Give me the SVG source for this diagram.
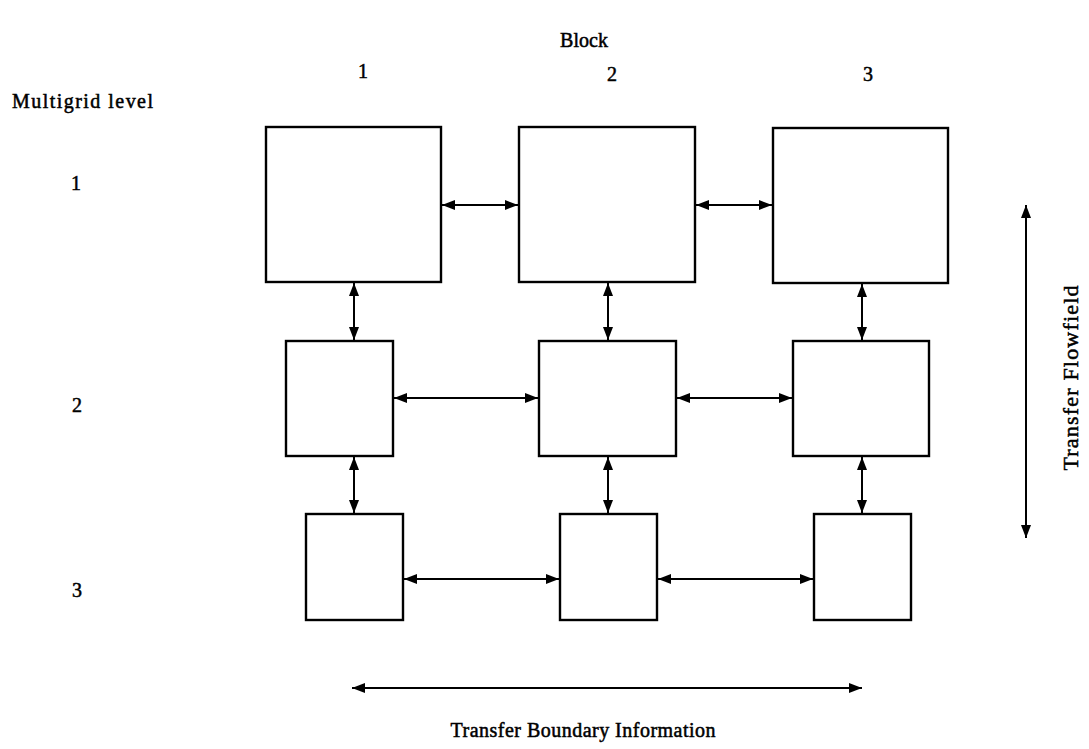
<svg xmlns="http://www.w3.org/2000/svg" width="1089" height="749" viewBox="0 0 1089 749">
  <defs>
    <marker id="head" viewBox="0 0 13 10" refX="13" refY="5" markerWidth="13" markerHeight="10" markerUnits="userSpaceOnUse" orient="auto-start-reverse">
      <path d="M0,0 L13,5 L0,10 Z" fill="#000"/>
    </marker>
  </defs>
  <style>
    .box { fill: #fff; stroke: #000; stroke-width: 2.4; }
    .link { stroke: #000; stroke-width: 2; fill: none; marker-start: url(#head); marker-end: url(#head); }
    text { font-family: "Liberation Serif", "Times New Roman", serif; font-size: 20px; fill: #000; stroke: #000; stroke-width: 0.5; }
    .mid { text-anchor: middle; }
  </style>
  <rect width="1089" height="749" fill="#fff"/>

  <!-- headings -->
  <text class="mid" x="584" y="47">Block</text>
  <text class="mid" x="363" y="78">1</text>
  <text class="mid" x="612" y="81">2</text>
  <text class="mid" x="868" y="81">3</text>
  <text x="12" y="108" textLength="141">Multigrid level</text>
  <text class="mid" x="76" y="190">1</text>
  <text class="mid" x="77" y="412">2</text>
  <text class="mid" x="77" y="597">3</text>

  <!-- level 1 -->
  <g id="b1-l1"><rect class="box" x="266" y="127" width="175" height="155"/></g>
  <g id="b2-l1"><rect class="box" x="519" y="127" width="176" height="155"/></g>
  <g id="b3-l1"><rect class="box" x="773" y="128" width="175" height="155"/></g>
  <!-- level 2 -->
  <g id="b1-l2"><rect class="box" x="286" y="341" width="107" height="115"/></g>
  <g id="b2-l2"><rect class="box" x="539" y="341" width="137" height="115"/></g>
  <g id="b3-l2"><rect class="box" x="793" y="341" width="136" height="115"/></g>
  <!-- level 3 -->
  <g id="b1-l3"><rect class="box" x="306" y="514" width="97" height="106"/></g>
  <g id="b2-l3"><rect class="box" x="560" y="514" width="97" height="106"/></g>
  <g id="b3-l3"><rect class="box" x="814" y="514" width="97" height="106"/></g>

  <g id="connectors">
    <line class="link" x1="442" y1="205" x2="518" y2="205"/>
    <line class="link" x1="696" y1="205" x2="772" y2="205"/>
    <line class="link" x1="354" y1="283" x2="354" y2="340"/>
    <line class="link" x1="608" y1="283" x2="608" y2="340"/>
    <line class="link" x1="862" y1="284" x2="862" y2="340"/>
    <line class="link" x1="394" y1="398" x2="538" y2="398"/>
    <line class="link" x1="677" y1="398" x2="792" y2="398"/>
    <line class="link" x1="354" y1="457" x2="354" y2="513"/>
    <line class="link" x1="608" y1="457" x2="608" y2="513"/>
    <line class="link" x1="862" y1="457" x2="862" y2="513"/>
    <line class="link" x1="404" y1="579" x2="559" y2="579"/>
    <line class="link" x1="658" y1="579" x2="813" y2="579"/>
    <line class="link" x1="1026" y1="205" x2="1026" y2="538"/>
    <line class="link" x1="352" y1="688" x2="862" y2="688"/>
  </g>

  <text class="mid" x="583" y="737" textLength="265">Transfer Boundary Information</text>
  <text class="mid" transform="translate(1078 378) rotate(-90)" style="font-size:22px" textLength="185">Transfer Flowfield</text>
</svg>
